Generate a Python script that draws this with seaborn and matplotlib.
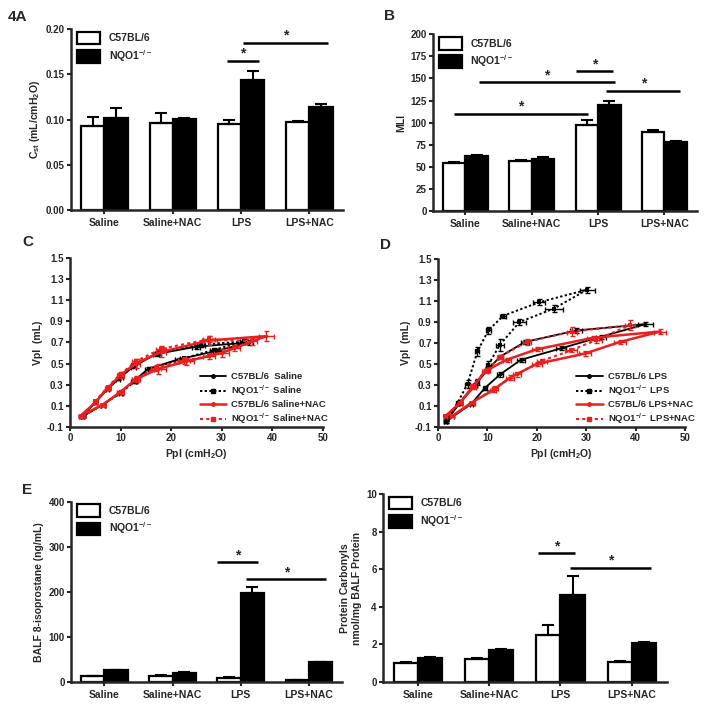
import numpy as np
import pandas as pd
import matplotlib
matplotlib.use("Agg")
import matplotlib.pyplot as plt
from matplotlib.patches import Patch
from matplotlib.lines import Line2D
import seaborn as sns

sns.set_style("ticks")
plt.rcParams['font.family'] = ['Liberation Sans', 'DejaVu Sans']
plt.rcParams['font.weight'] = 'bold'
plt.rcParams['axes.labelweight'] = 'bold'
plt.rcParams['mathtext.fontset'] = 'custom'
plt.rcParams['mathtext.rm'] = 'Liberation Sans:bold'
plt.rcParams['mathtext.it'] = 'Liberation Sans:bold'
plt.rcParams['mathtext.bf'] = 'Liberation Sans:bold'
plt.rcParams['axes.unicode_minus'] = False

# ---- bar panel data ----
conditions = ['Saline', 'Saline+NAC', 'LPS', 'LPS+NAC']
strains = ['C57BL/6', 'NQO1$^{-/-}$']

cst_wt = [0.093, 0.096, 0.0945, 0.0975]
cst_wt_err = [0.010, 0.011, 0.0045, 0.0008]
cst_ko = [0.102, 0.101, 0.144, 0.1135]
cst_ko_err = [0.011, 0.0008, 0.010, 0.004]

mli_wt = [54, 56, 97, 89.5]
mli_wt_err = [1.2, 1.0, 5.5, 2.5]
mli_ko = [61.5, 59, 120, 78.5]
mli_ko_err = [2.0, 1.5, 5.0, 1.0]

iso_wt = [12.5, 14, 9.6, 5]
iso_wt_err = [0.8, 0.8, 0.6, 0.4]
iso_ko = [26, 21, 197, 44]
iso_ko_err = [1.0, 1.0, 13, 1.5]

carb_wt = [1.0, 1.22, 2.51, 1.06]
carb_wt_err = [0.07, 0.07, 0.53, 0.05]
carb_ko = [1.27, 1.68, 4.62, 2.05]
carb_ko_err = [0.05, 0.05, 1.03, 0.06]

# significance bars: (x start, x end, height) in category units
sig_a = [(1.79, 2.26, 0.165), (2.03, 3.28, 0.185)]
sig_b = [(-0.17, 1.85, 110), (0.21, 2.25, 146), (1.67, 2.23, 158), (2.12, 3.24, 136)]
sig_e = [(1.66, 2.26, 266), (2.08, 3.26, 228)]
sig_f = [(1.68, 2.21, 6.85), (2.14, 3.27, 6.09)]

# ---- pressure-volume loops (inflation then deflation) ----
c_wt_sal_p = [2.5, 6.5, 9.8, 12.5, 15.5, 21.5, 29.0, 35.5, 25.0, 17.0, 12.5, 9.5, 7.5, 5.0, 2.5]
c_wt_sal_v = [0.00, 0.11, 0.22, 0.33, 0.45, 0.54, 0.62, 0.70, 0.66, 0.59, 0.47, 0.35, 0.26, 0.13, 0.00]
c_ko_sal_p = [2.5, 6.5, 10.0, 12.8, 16.0, 22.5, 28.5, 34.5, 26.0, 17.5, 12.5, 10.0, 7.5, 5.0, 2.5]
c_ko_sal_v = [0.00, 0.11, 0.22, 0.33, 0.45, 0.55, 0.63, 0.71, 0.68, 0.60, 0.49, 0.37, 0.27, 0.14, 0.00]
c_wt_nac_p = [2.0, 6.5, 10.0, 13.0, 17.5, 23.0, 30.0, 38.8, 27.6, 18.0, 13.0, 10.0, 7.5, 5.0, 2.0]
c_wt_nac_v = [0.00, 0.11, 0.23, 0.35, 0.45, 0.52, 0.60, 0.76, 0.72, 0.61, 0.50, 0.39, 0.27, 0.13, 0.00]
c_ko_nac_p = [2.5, 6.5, 10.0, 13.0, 17.0, 22.5, 27.5, 32.5, 36.0, 27.5, 18.0, 13.0, 10.0, 7.5, 5.0, 2.5]
c_ko_nac_v = [0.00, 0.11, 0.23, 0.35, 0.46, 0.53, 0.57, 0.65, 0.71, 0.73, 0.64, 0.52, 0.40, 0.28, 0.14, 0.00]

c_black_perr = [0.3, 0.4, 0.4, 0.5, 0.6, 0.8, 0.8, 0.8, 0.8, 0.6, 0.5, 0.4, 0.3, 0.3, 0.3]
c_black_verr = [0.01, 0.01, 0.01, 0.015, 0.015, 0.015, 0.02, 0.02, 0.02, 0.015, 0.015, 0.01, 0.01, 0.01, 0.01]
c_wt_nac_perr = [0.3, 0.5, 0.6, 0.8, 1.5, 1.5, 1.5, 1.5, 1.5, 1.0, 0.8, 0.6, 0.5, 0.4, 0.3]
c_wt_nac_verr = [0.01, 0.01, 0.02, 0.03, 0.05, 0.03, 0.04, 0.05, 0.04, 0.05, 0.04, 0.03, 0.02, 0.01, 0.01]
c_ko_nac_perr = [0.3, 0.4, 0.5, 0.7, 1.0, 1.2, 1.2, 1.2, 1.0, 1.2, 1.0, 0.7, 0.5, 0.4, 0.3, 0.3]
c_ko_nac_verr = [0.01, 0.01, 0.02, 0.02, 0.03, 0.03, 0.03, 0.03, 0.03, 0.03, 0.03, 0.02, 0.02, 0.01, 0.01, 0.01]

d_wt_lps_p = [1.6, 6.8, 9.5, 12.6, 16.8, 25.0, 33.0, 42.0, 28.0, 17.6, 12.6, 10.0, 7.5, 4.5, 1.6]
d_wt_lps_v = [-0.05, 0.12, 0.27, 0.40, 0.54, 0.65, 0.76, 0.88, 0.82, 0.71, 0.57, 0.44, 0.30, 0.13, -0.05]
d_ko_lps_p = [1.6, 4.5, 8.0, 10.2, 12.5, 16.5, 23.5, 30.2, 20.5, 13.2, 10.2, 8.0, 6.0, 4.0, 1.6]
d_ko_lps_v = [-0.04, 0.14, 0.33, 0.49, 0.68, 0.90, 1.03, 1.21, 1.09, 0.96, 0.82, 0.62, 0.31, 0.13, -0.04]
d_wt_nac_p = [2.8, 6.8, 11.2, 14.6, 20.0, 29.8, 36.8, 45.0, 31.4, 20.0, 13.9, 9.5, 7.2, 4.5, 1.5]
d_wt_nac_v = [0.00, 0.13, 0.25, 0.37, 0.50, 0.60, 0.71, 0.81, 0.75, 0.64, 0.54, 0.43, 0.28, 0.13, 0.00]
d_ko_nac_p = [2.8, 7.0, 11.5, 16.0, 21.0, 27.0, 32.0, 38.8, 27.1, 18.0, 12.6, 10.0, 7.0, 4.5, 1.5]
d_ko_nac_v = [0.00, 0.13, 0.27, 0.40, 0.53, 0.63, 0.73, 0.87, 0.81, 0.71, 0.57, 0.44, 0.29, 0.13, 0.00]

d_wt_lps_perr = [0.3, 0.4, 0.4, 0.6, 0.8, 1.0, 1.0, 1.5, 1.2, 0.8, 0.5, 0.4, 0.4, 0.3, 0.3]
d_wt_lps_verr = [0.01, 0.01, 0.02, 0.02, 0.02, 0.02, 0.02, 0.02, 0.02, 0.02, 0.02, 0.02, 0.02, 0.01, 0.01]
d_ko_lps_perr = [0.3, 0.4, 0.4, 0.5, 0.8, 1.3, 1.8, 1.5, 1.2, 0.6, 0.5, 0.4, 0.5, 0.3, 0.3]
d_ko_lps_verr = [0.01, 0.02, 0.03, 0.04, 0.06, 0.03, 0.03, 0.03, 0.03, 0.02, 0.03, 0.04, 0.04, 0.02, 0.01]
d_wt_nac_perr = [0.4, 0.5, 0.6, 0.8, 1.0, 1.2, 1.2, 1.2, 1.2, 1.0, 0.8, 0.6, 0.5, 0.4, 0.3]
d_wt_nac_verr = [0.01, 0.01, 0.02, 0.02, 0.02, 0.02, 0.02, 0.02, 0.02, 0.02, 0.02, 0.02, 0.02, 0.01, 0.01]
d_ko_nac_perr = [0.4, 0.5, 0.6, 0.8, 1.0, 1.2, 1.2, 1.0, 1.0, 0.8, 0.6, 0.5, 0.5, 0.4, 0.3]
d_ko_nac_verr = [0.01, 0.01, 0.02, 0.02, 0.02, 0.02, 0.03, 0.05, 0.04, 0.03, 0.02, 0.02, 0.02, 0.01, 0.01]

SPINE_W = 1.8
RED = '#e8201f'
BLACK_DOT = (0, (1.2, 1.2))
RED_DOT = (0, (1.5, 1.5))


def style_axes(ax):
    sns.despine(ax=ax)
    for s in ['left', 'bottom']:
        ax.spines[s].set_linewidth(SPINE_W)
    ax.tick_params(direction='out', length=3, width=1.5, labelsize=7, pad=1.5)
    for lab in ax.get_xticklabels() + ax.get_yticklabels():
        lab.set_fontweight('bold')


def bar_panel(ax, wt, wt_err, ko, ko_err, sigs, yticks, ylabel, fmt):
    df = pd.DataFrame({
        'cond': conditions * 2,
        'strain': [strains[0]] * 4 + [strains[1]] * 4,
        'val': list(wt) + list(ko),
    })
    sns.barplot(data=df, x='cond', y='val', hue='strain', order=conditions,
                hue_order=strains, palette=['white', 'black'], saturation=1,
                edgecolor='black', linewidth=1.6, width=0.68, errorbar=None,
                legend=False, ax=ax)
    for cont, vals, errs in zip(ax.containers, [wt, ko], [wt_err, ko_err]):
        xs = [b.get_x() + b.get_width() / 2 for b in cont]
        ax.errorbar(xs, vals, yerr=[np.zeros(len(vals)), errs], fmt='none',
                    ecolor='black', elinewidth=1.5, capsize=4.5, capthick=1.5)
    for x0, x1, h in sigs:
        ax.plot([x0, x1], [h, h], color='black', lw=1.8, solid_capstyle='butt')
        ax.text((x0 + x1) / 2, h, '*', ha='center', va='bottom',
                fontsize=10, fontweight='bold')
    ax.set_xlim(-0.49, 3.49)
    ax.set_ylim(yticks[0], yticks[-1])
    ax.set_yticks(yticks)
    ax.set_yticklabels([fmt.format(t) for t in yticks])
    ax.set_xlabel('')
    ax.set_ylabel(ylabel, fontsize=7.5, fontweight='bold', labelpad=3)
    style_axes(ax)
    ax.tick_params(axis='x', labelsize=7.5, pad=3)
    handles = [Patch(facecolor='white', edgecolor='black', linewidth=1.6, label=strains[0]),
               Patch(facecolor='black', edgecolor='black', linewidth=1.6, label=strains[1])]
    ax.legend(handles=handles, loc='upper left', bbox_to_anchor=(0.0, 1.02),
              frameon=False, fontsize=7.5, handlelength=2.2, handleheight=1.5,
              handletextpad=0.8, labelspacing=0.35, borderaxespad=0.2)


def pv_panel(ax, series, labels, legend_x):
    for (p, v, pe, ve, col, ls, mk, lw) in series:
        sns.lineplot(x=p, y=v, sort=False, estimator=None, color=col,
                     linestyle=ls, linewidth=lw, marker=mk, markersize=2.5,
                     markeredgewidth=0, ax=ax)
        ax.errorbar(p, v, xerr=pe, yerr=ve, fmt='none', ecolor=col,
                    elinewidth=1.0, capsize=1.8, capthick=1.0)
    ax.set_xlim(0, 50)
    ax.set_ylim(-0.1, 1.5)
    ax.set_xticks([0, 10, 20, 30, 40, 50])
    yt = [-0.1, 0.1, 0.3, 0.5, 0.7, 0.9, 1.1, 1.3, 1.5]
    ax.set_yticks(yt)
    ax.set_yticklabels(['{:.1f}'.format(t) for t in yt])
    ax.set_xlabel('Ppl (cmH$_2$O)', fontsize=7.5, fontweight='bold', labelpad=3)
    ax.set_ylabel('Vpl  (mL)', fontsize=7.5, fontweight='bold', labelpad=3)
    style_axes(ax)
    handles = [Line2D([], [], color=s[4], ls=s[5], lw=s[7], marker=s[6], markersize=2.5)
               for s in series]
    ax.legend(handles, labels, loc='lower right', bbox_to_anchor=(legend_x, -0.02),
              frameon=False, fontsize=6.8, handlelength=2.8, labelspacing=0.25,
              handletextpad=0.55, borderaxespad=0.0)


fig = plt.figure(figsize=(7.04, 7.08), dpi=100)

ax_a = fig.add_axes([0.1009, 0.7034, 0.386, 0.2556])
ax_b = fig.add_axes([0.615, 0.7024, 0.375, 0.249])
ax_c = fig.add_axes([0.0994, 0.3973, 0.359, 0.2379])
ax_d = fig.add_axes([0.622, 0.3973, 0.351, 0.2364])
ax_e = fig.add_axes([0.1009, 0.0367, 0.385, 0.2547])
ax_f = fig.add_axes([0.544, 0.0367, 0.403, 0.2655])

bar_panel(ax_a, cst_wt, cst_wt_err, cst_ko, cst_ko_err, sig_a,
          [0.0, 0.05, 0.10, 0.15, 0.20], 'C$_{st}$ (mL/cmH$_2$O)', '{:.2f}')
bar_panel(ax_b, mli_wt, mli_wt_err, mli_ko, mli_ko_err, sig_b,
          [0, 25, 50, 75, 100, 125, 150, 175, 200], 'MLI', '{:.0f}')
bar_panel(ax_e, iso_wt, iso_wt_err, iso_ko, iso_ko_err, sig_e,
          [0, 100, 200, 300, 400], 'BALF 8-isoprostane (ng/mL)', '{:.0f}')
bar_panel(ax_f, carb_wt, carb_wt_err, carb_ko, carb_ko_err, sig_f,
          [0, 2, 4, 6, 8, 10], 'Protein Carbonyls\nnmol/mg BALF Protein', '{:.0f}')

pv_panel(ax_c, [
    (c_wt_sal_p, c_wt_sal_v, c_black_perr, c_black_verr, 'black', '-', 'o', 1.3),
    (c_ko_sal_p, c_ko_sal_v, c_black_perr, c_black_verr, 'black', BLACK_DOT, 's', 1.4),
    (c_wt_nac_p, c_wt_nac_v, c_wt_nac_perr, c_wt_nac_verr, RED, '-', 'o', 1.8),
    (c_ko_nac_p, c_ko_nac_v, c_ko_nac_perr, c_ko_nac_verr, RED, RED_DOT, 's', 1.5),
], ['C57BL/6  Saline', 'NQO1$^{-/-}$ Saline', 'C57BL/6 Saline+NAC', 'NQO1$^{-/-}$ Saline+NAC'], 1.04)

pv_panel(ax_d, [
    (d_wt_lps_p, d_wt_lps_v, d_wt_lps_perr, d_wt_lps_verr, 'black', '-', 'o', 1.3),
    (d_ko_lps_p, d_ko_lps_v, d_ko_lps_perr, d_ko_lps_verr, 'black', BLACK_DOT, 's', 1.4),
    (d_wt_nac_p, d_wt_nac_v, d_wt_nac_perr, d_wt_nac_verr, RED, '-', 'o', 1.8),
    (d_ko_nac_p, d_ko_nac_v, d_ko_nac_perr, d_ko_nac_verr, RED, RED_DOT, 's', 1.5),
], ['C57BL/6 LPS', 'NQO1$^{-/-}$ LPS', 'C57BL/6 LPS+NAC', 'NQO1$^{-/-}$ LPS+NAC'], 1.06)

# panel letters
for txt, x, y in [('4A', 8, 17), ('B', 384, 16), ('C', 22, 242), ('D', 380, 245), ('E', 22, 490)]:
    fig.text(x / 704, 1 - y / 708, txt, fontsize=11, fontweight='bold', va='center', ha='left')

fig.savefig('out.png', dpi=100)
